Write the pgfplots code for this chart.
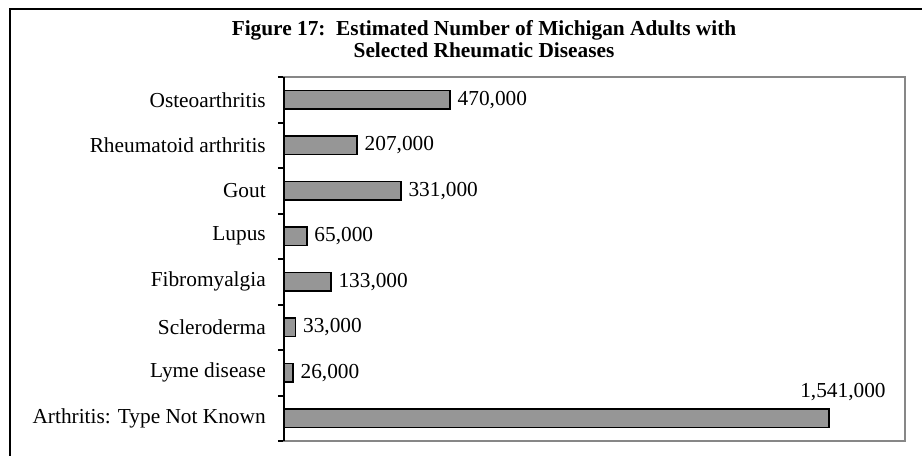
\documentclass[border=0pt]{standalone}
\usepackage{pgfplots}
\pgfplotsset{compat=1.18}
\usepackage{fontspec}
\setmainfont{Liberation Serif}
\definecolor{barfill}{RGB}{150,150,150}
\definecolor{framegray}{RGB}{135,135,135}
\begin{document}
\begin{tikzpicture}[x=0.75pt,y=0.75pt]
\useasboundingbox (0,0) rectangle (922,455);
\begin{scope}
\clip (0,0) rectangle (922,455);
\draw[black,line width=1.5pt] (10,-20) -- (10,446) -- (950,446);
\end{scope}
\node[anchor=base,font=\fontsize{16}{19}\selectfont\bfseries] at (484,420) {Figure 17:\ \ Estimated Number of Michigan Adults with};
\node[anchor=base,font=\fontsize{16}{19}\selectfont\bfseries] at (484,398) {Selected Rheumatic Diseases};
\begin{axis}[
  at={(213pt,10.5pt)}, anchor=south west,
  scale only axis, width=465.75pt, height=273pt,
  xmin=0, xmax=1756000,
  ymin=-0.5, ymax=7.5, y dir=reverse,
  xtick=\empty, scaled x ticks=false,
  ytick pos=left,
  ytick={0,1,2,3,4,5,6,7},
  yticklabels={Osteoarthritis,Rheumatoid arthritis,Gout,Lupus,Fibromyalgia,Scleroderma,Lyme disease,Arthritis: Type Not Known},
  minor ytick={-0.5,0.5,1.5,2.5,3.5,4.5,5.5,6.5,7.5},
  major tick length=0pt, minor tick length=4.5pt,
  tick align=outside,
  every tick/.style={black, line width=1.5pt},
  minor tick style={black, line width=1.5pt},
  yticklabel style={font=\fontsize{16}{19}\selectfont, inner sep=0pt, xshift=-13.5pt},
  axis line style={framegray, line width=1.5pt},
  xbar, bar width=0.4,
  /pgf/number format/.cd, fixed, precision=0, 1000 sep={,}, assume math mode=true,
  /pgfplots/.cd,
  point meta=x,
  clip=false,
]
\addplot[draw=black, line width=1.2pt, fill=barfill, bar shift=0pt,
  nodes near coords,
  every node near coord/.append style={font=\fontsize{16}{19}\selectfont, black, anchor=west, inner sep=0pt, xshift=5pt}]
  coordinates {(470000,0) (207000,1) (331000,2) (65000,3) (133000,4) (33000,5) (26000,6)};
\addplot[draw=black, line width=1.2pt, fill=barfill, bar shift=0pt,
  nodes near coords,
  every node near coord/.append style={font=\fontsize{16}{19}\selectfont, black, anchor=base, inner sep=0pt, xshift=10.5pt, yshift=15.75pt}]
  coordinates {(1541000,7)};
\draw[black, line width=1.5pt] (rel axis cs:0,0) -- (rel axis cs:0,1);
\end{axis}
\end{tikzpicture}
\end{document}
